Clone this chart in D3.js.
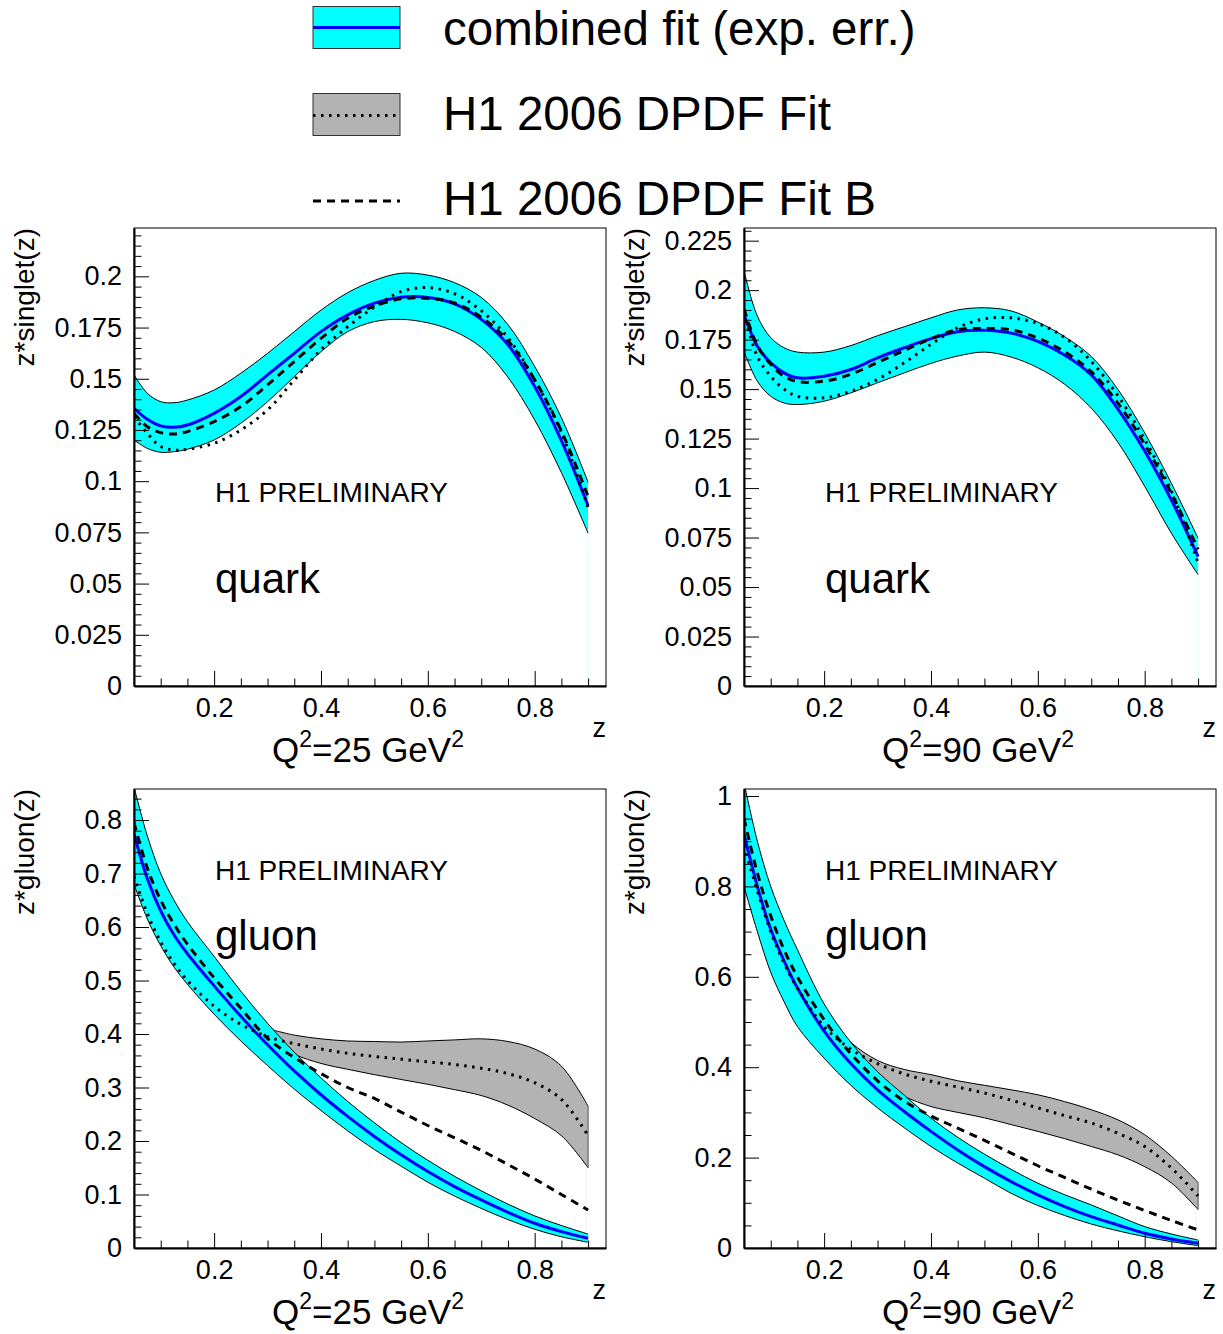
<!DOCTYPE html>
<html><head><meta charset="utf-8">
<script src="https://cdn.jsdelivr.net/npm/d3@7"></script>
<style>
body{margin:0;background:#fff}
svg{display:block}
text{font-family:"Liberation Sans",Arial,Helvetica,sans-serif;fill:#000}
</style>
</head><body>
<svg id="c" width="1223" height="1334"></svg>
<script>
// ---------------- data ----------------
const zGrid = [0.05,0.075,0.1,0.125,0.15,0.2,0.25,0.3,0.35,0.4,0.45,0.5,0.55,0.6,0.65,0.7,0.75,0.8,0.85,0.9];

// quark, Q2 = 25
const q25Fit    = [0.1356,0.1302,0.1270,0.1263,0.1274,0.1331,0.1413,0.1519,0.1624,0.1730,0.1812,0.1869,0.1898,0.1897,0.1866,0.1790,0.1666,0.1462,0.1198,0.0880];
const q25Upper  = [0.1519,0.1429,0.1388,0.1383,0.1396,0.1445,0.1527,0.1624,0.1730,0.1835,0.1920,0.1980,0.2015,0.2006,0.1969,0.1897,0.1764,0.1560,0.1310,0.0995];
const q25Lower  = [0.1201,0.1160,0.1141,0.1144,0.1156,0.1201,0.1283,0.1388,0.1510,0.1632,0.1730,0.1779,0.1790,0.1773,0.1731,0.1653,0.1507,0.1299,0.1042,0.0746];
const q25FitB   = [0.1331,0.1266,0.1237,0.1230,0.1242,0.1291,0.1364,0.1470,0.1584,0.1697,0.1795,0.1855,0.1890,0.1893,0.1870,0.1800,0.1685,0.1495,0.1245,0.0925];
const q25H1     = [0.1315,0.1234,0.1169,0.1152,0.1156,0.1185,0.1250,0.1348,0.1494,0.1641,0.1754,0.1850,0.1925,0.1945,0.1915,0.1832,0.1700,0.1494,0.1237,0.0870];

// quark, Q2 = 90
const q90Fit    = [0.1877,0.1717,0.1633,0.1582,0.1557,0.1565,0.1599,0.1658,0.1709,0.1755,0.1790,0.1797,0.1783,0.1741,0.1672,0.1572,0.1399,0.1187,0.0939,0.0654];
const q90Upper  = [0.2097,0.1869,0.1760,0.1709,0.1687,0.1687,0.1720,0.1770,0.1815,0.1860,0.1900,0.1911,0.1895,0.1839,0.1765,0.1665,0.1498,0.1279,0.1024,0.0747];
const q90Lower  = [0.1690,0.1540,0.1464,0.1430,0.1422,0.1439,0.1481,0.1532,0.1582,0.1630,0.1667,0.1687,0.1662,0.1608,0.1525,0.1404,0.1231,0.1009,0.0772,0.0562];
const q90FitB   = [0.1905,0.1720,0.1625,0.1565,0.1538,0.1540,0.1575,0.1635,0.1695,0.1755,0.1800,0.1806,0.1800,0.1758,0.1689,0.1588,0.1429,0.1221,0.0973,0.0690];
const q90H1     = [0.1886,0.1665,0.1565,0.1500,0.1464,0.1456,0.1489,0.1549,0.1633,0.1726,0.1810,0.1855,0.1860,0.1831,0.1761,0.1640,0.1466,0.1245,0.0984,0.0621];

// gluon, Q2 = 25
const g25Fit    = [0.775,0.690,0.630,0.585,0.550,0.490,0.433,0.380,0.331,0.2865,0.246,0.2085,0.1742,0.1429,0.1148,0.0899,0.0668,0.0462,0.0306,0.0181];
const g25Upper  = [0.862,0.770,0.700,0.650,0.610,0.545,0.480,0.420,0.366,0.318,0.274,0.234,0.197,0.164,0.134,0.107,0.082,0.060,0.042,0.026];
const g25Lower  = [0.680,0.615,0.565,0.525,0.493,0.437,0.387,0.341,0.297,0.257,0.219,0.184,0.153,0.123,0.097,0.074,0.053,0.035,0.021,0.0107];
const g25FitB   = [0.795,0.710,0.650,0.605,0.568,0.505,0.448,0.392,0.356,0.326,0.300,0.2795,0.254,0.229,0.206,0.1825,0.156,0.129,0.100,0.071];
const g25H1     = [0.695,0.625,0.572,0.532,0.500,0.452,0.418,0.395,0.382,0.372,0.364,0.358,0.353,0.348,0.343,0.336,0.326,0.309,0.278,0.210];
const g25H1Z     = [0.3,0.35,0.4,0.45,0.5,0.55,0.6,0.65,0.7,0.75,0.8,0.85,0.9];
const g25H1Upper = [0.410,0.398,0.391,0.387,0.386,0.385,0.387,0.389,0.391,0.386,0.372,0.340,0.265];
const g25H1Lower = [0.390,0.362,0.345,0.334,0.324,0.315,0.306,0.296,0.285,0.267,0.242,0.210,0.150];

// gluon, Q2 = 90
const g90Fit    = [0.916,0.800,0.705,0.635,0.575,0.480,0.408,0.350,0.302,0.258,0.217,0.180,0.147,0.1175,0.0916,0.0694,0.051,0.0326,0.020,0.0104];
const g90Upper  = [1.030,0.900,0.800,0.725,0.660,0.540,0.455,0.390,0.338,0.2875,0.245,0.2077,0.174,0.1434,0.118,0.0953,0.071,0.0473,0.031,0.0177];
const g90Lower  = [0.800,0.700,0.610,0.545,0.490,0.420,0.360,0.310,0.266,0.2246,0.188,0.1545,0.121,0.094,0.072,0.053,0.038,0.025,0.014,0.0052];
const g90FitB   = [0.950,0.830,0.735,0.660,0.600,0.505,0.430,0.370,0.325,0.292,0.265,0.238,0.210,0.182,0.156,0.130,0.106,0.083,0.061,0.040];
const g90H1     = [0.890,0.790,0.700,0.630,0.575,0.490,0.440,0.408,0.385,0.369,0.356,0.343,0.327,0.310,0.293,0.2765,0.254,0.2246,0.177,0.115];
const g90H1Z     = [0.2,0.25,0.3,0.35,0.4,0.45,0.5,0.55,0.6,0.65,0.7,0.75,0.8,0.85,0.9];
const g90H1Upper = [0.520,0.455,0.415,0.395,0.3836,0.370,0.360,0.350,0.339,0.324,0.306,0.2835,0.2506,0.203,0.145];
const g90H1Lower = [0.470,0.410,0.365,0.335,0.313,0.300,0.288,0.273,0.258,0.242,0.2246,0.206,0.180,0.144,0.085];

const xMajorTicks = [0.2,0.4,0.6,0.8];
const xMinorTicks = [0.1,0.15,0.25,0.3,0.35,0.45,0.5,0.55,0.65,0.7,0.75,0.85,0.9];
const legendLabels = ["combined fit (exp. err.)","H1 2006 DPDF Fit","H1 2006 DPDF Fit B"];

// ---------------- layout ----------------
const svg = d3.select("#c");
const CYAN="#00ffff", BLUE="#0000ff", GRAY="#b3b3b3";

const panels = [
  {x0:134,x1:606,y0:228,y1:686,yMax:0.2236,major:0.025,minor:0.005,title:"z*singlet(z)",q2:"25",name:"quark",
   fit:q25Fit,up:q25Upper,lo:q25Lower,fitB:q25FitB,h1:q25H1},
  {x0:744,x1:1216,y0:228,y1:686,yMax:0.2314,major:0.025,minor:0.005,title:"z*singlet(z)",q2:"90",name:"quark",
   fit:q90Fit,up:q90Upper,lo:q90Lower,fitB:q90FitB,h1:q90H1},
  {x0:134,x1:606,y0:789,y1:1248,yMax:0.858,major:0.1,minor:0.02,title:"z*gluon(z)",q2:"25",name:"gluon",
   fit:g25Fit,up:g25Upper,lo:g25Lower,fitB:g25FitB,h1:g25H1,gz:g25H1Z,gup:g25H1Upper,glo:g25H1Lower},
  {x0:744,x1:1216,y0:789,y1:1248,yMax:1.0155,major:0.2,minor:0.05,title:"z*gluon(z)",q2:"90",name:"gluon",
   fit:g90Fit,up:g90Upper,lo:g90Lower,fitB:g90FitB,h1:g90H1,gz:g90H1Z,gup:g90H1Upper,glo:g90H1Lower}
];

const fmt = d => d===0 ? "0" : String(+d.toFixed(3));
const CURVE = d3.curveCatmullRom.alpha(0.5);

panels.forEach((p,i)=>{
  const x = d3.scaleLinear().domain([0.05,0.9335]).range([p.x0,p.x1]);
  const y = d3.scaleLinear().domain([0,p.yMax]).range([p.y1,p.y0]);
  const g = svg.append("g");
  const clipId = "clip"+i;
  svg.append("defs").append("clipPath").attr("id",clipId)
     .append("rect").attr("x",p.x0).attr("y",p.y0).attr("width",p.x1-p.x0).attr("height",p.y1-p.y0);
  const plot = g.append("g").attr("clip-path",`url(#${clipId})`);

  const pts = (ys)=> zGrid.map((z,k)=>({z,v:ys[k]}));
  const line = d3.line().x(d=>x(d.z)).y(d=>y(d.v)).curve(CURVE);
  const area = d3.area().x(d=>x(d.z)).y0(d=>y(d.lo)).y1(d=>y(d.hi)).curve(CURVE);

  // H1 2006 band (gluon only)
  if (p.gz){
    const gb = p.gz.map((z,k)=>({z,lo:p.glo[k],hi:p.gup[k]}));
    plot.append("path").attr("d",area(gb)).attr("fill",GRAY).attr("stroke","none");
    plot.append("path").attr("d",line(gb.map(d=>({z:d.z,v:d.hi})))).attr("fill","none").attr("stroke","#000").attr("stroke-width",1);
    plot.append("path").attr("d",line(gb.map(d=>({z:d.z,v:d.lo})))).attr("fill","none").attr("stroke","#000").attr("stroke-width",1);
    const last = gb[gb.length-1];
    plot.append("line").attr("x1",x(last.z)).attr("x2",x(last.z)).attr("y1",y(last.lo)).attr("y2",y(last.hi))
        .attr("stroke","#555").attr("stroke-width",1);
    plot.append("line").attr("x1",x(last.z)-2).attr("x2",x(last.z)-2).attr("y1",y(0)).attr("y2",y(last.lo))
        .attr("stroke","#eeeeee").attr("stroke-width",1);
  }
  // combined fit band
  const band = zGrid.map((z,k)=>({z,lo:p.lo[k],hi:p.up[k]}));
  plot.append("path").attr("d",area(band)).attr("fill",CYAN).attr("stroke","none");
  plot.append("path").attr("d",line(pts(p.up))).attr("fill","none").attr("stroke","#000").attr("stroke-width",1);
  plot.append("path").attr("d",line(pts(p.lo))).attr("fill","none").attr("stroke","#000").attr("stroke-width",1);
  const zl = zGrid[zGrid.length-1];
  plot.append("line").attr("x1",x(zl)).attr("x2",x(zl)).attr("y1",y(0)).attr("y2",y(p.lo[p.lo.length-1]))
      .attr("stroke","#d8ffff").attr("stroke-width",1);

  // curves
  plot.append("path").attr("d",line(pts(p.fit))).attr("fill","none").attr("stroke",BLUE).attr("stroke-width",3);
  plot.append("path").attr("d",line(pts(p.h1))).attr("fill","none").attr("stroke","#000").attr("stroke-width",3)
      .attr("stroke-dasharray","2.5,5.5");
  plot.append("path").attr("d",line(pts(p.fitB))).attr("fill","none").attr("stroke","#000").attr("stroke-width",3)
      .attr("stroke-dasharray","8,6");

  // frame
  g.append("rect").attr("x",p.x0).attr("y",p.y0).attr("width",p.x1-p.x0).attr("height",p.y1-p.y0)
   .attr("fill","none").attr("stroke","#000").attr("stroke-width",1);

  // y axis
  const yMaj = d3.range(0,p.yMax+1e-9,p.major).map(v=>+v.toFixed(4));
  const yMin = d3.range(0,p.yMax+1e-9,p.minor).map(v=>+v.toFixed(4))
                 .filter(v=>Math.abs(v/p.major-Math.round(v/p.major))>1e-6);
  const ya = g.append("g").attr("transform",`translate(${p.x0},0)`)
     .call(d3.axisLeft(y).tickValues(yMaj).tickSize(-15).tickSizeOuter(0).tickPadding(12).tickFormat(fmt));
  g.append("g").attr("transform",`translate(${p.x0},0)`)
     .call(d3.axisLeft(y).tickValues(yMin).tickSize(-7.5).tickSizeOuter(0).tickFormat(""))
     .call(s=>s.select(".domain").remove());
  ya.select(".domain").attr("stroke-width",2);
  // x axis
  const xa = g.append("g").attr("transform",`translate(0,${p.y1})`)
     .call(d3.axisBottom(x).tickValues(xMajorTicks).tickSize(-15).tickSizeOuter(0).tickPadding(12).tickFormat(fmt));
  g.append("g").attr("transform",`translate(0,${p.y1})`)
     .call(d3.axisBottom(x).tickValues(xMinorTicks).tickSize(-7.5).tickSizeOuter(0).tickFormat(""))
     .call(s=>s.select(".domain").remove());
  xa.select(".domain").attr("stroke-width",2);
  g.selectAll(".tick line").attr("stroke","#000");
  g.selectAll(".tick text").attr("font-size",27).attr("font-family","Liberation Sans, Arial, sans-serif");

  // axis titles
  g.append("text").attr("transform",`translate(${p.x0-100},${p.y0}) rotate(-90)`)
   .attr("text-anchor","end").attr("font-size",28).text(p.title);
  g.append("text").attr("x",p.x1).attr("y",p.y1+51).attr("text-anchor","end").attr("font-size",27).text("z");
  const qt = g.append("text").attr("x",p.x0+138).attr("y",p.y1+76).attr("font-size",35);
  qt.append("tspan").text("Q");
  qt.append("tspan").attr("font-size",23).attr("dy",-15).text("2");
  qt.append("tspan").attr("dy",15).text("="+p.q2+" GeV");
  qt.append("tspan").attr("font-size",23).attr("dy",-15).text("2");

  // annotations
  const top = p.name==="quark";
  g.append("text").attr("x",p.x0+81).attr("y",p.y0+(top?274:91)).attr("font-size",28).text("H1 PRELIMINARY");
  g.append("text").attr("x",p.x0+81).attr("y",p.y0+(top?365:161)).attr("font-size",42).text(p.name);
});

// ---------------- legend ----------------
const lg = svg.append("g");
const bx=313, bw=87;
lg.append("rect").attr("x",bx).attr("y",6.5).attr("width",bw).attr("height",42).attr("fill",CYAN).attr("stroke","#333").attr("stroke-width",1);
lg.append("line").attr("x1",bx).attr("x2",bx+bw).attr("y1",27.5).attr("y2",27.5).attr("stroke",BLUE).attr("stroke-width",3);
lg.append("rect").attr("x",bx).attr("y",93.5).attr("width",bw).attr("height",42).attr("fill",GRAY).attr("stroke","#333").attr("stroke-width",1);
lg.append("line").attr("x1",bx).attr("x2",bx+bw).attr("y1",115.5).attr("y2",115.5).attr("stroke","#000").attr("stroke-width",3).attr("stroke-dasharray","2.5,5.5");
lg.append("line").attr("x1",bx).attr("x2",bx+bw).attr("y1",201).attr("y2",201).attr("stroke","#000").attr("stroke-width",3).attr("stroke-dasharray","8,6");
[45,130,215].forEach((yy,k)=>{
  lg.append("text").attr("x",443).attr("y",yy).attr("font-size",47.5).text(legendLabels[k]);
});
</script>
</body></html>
